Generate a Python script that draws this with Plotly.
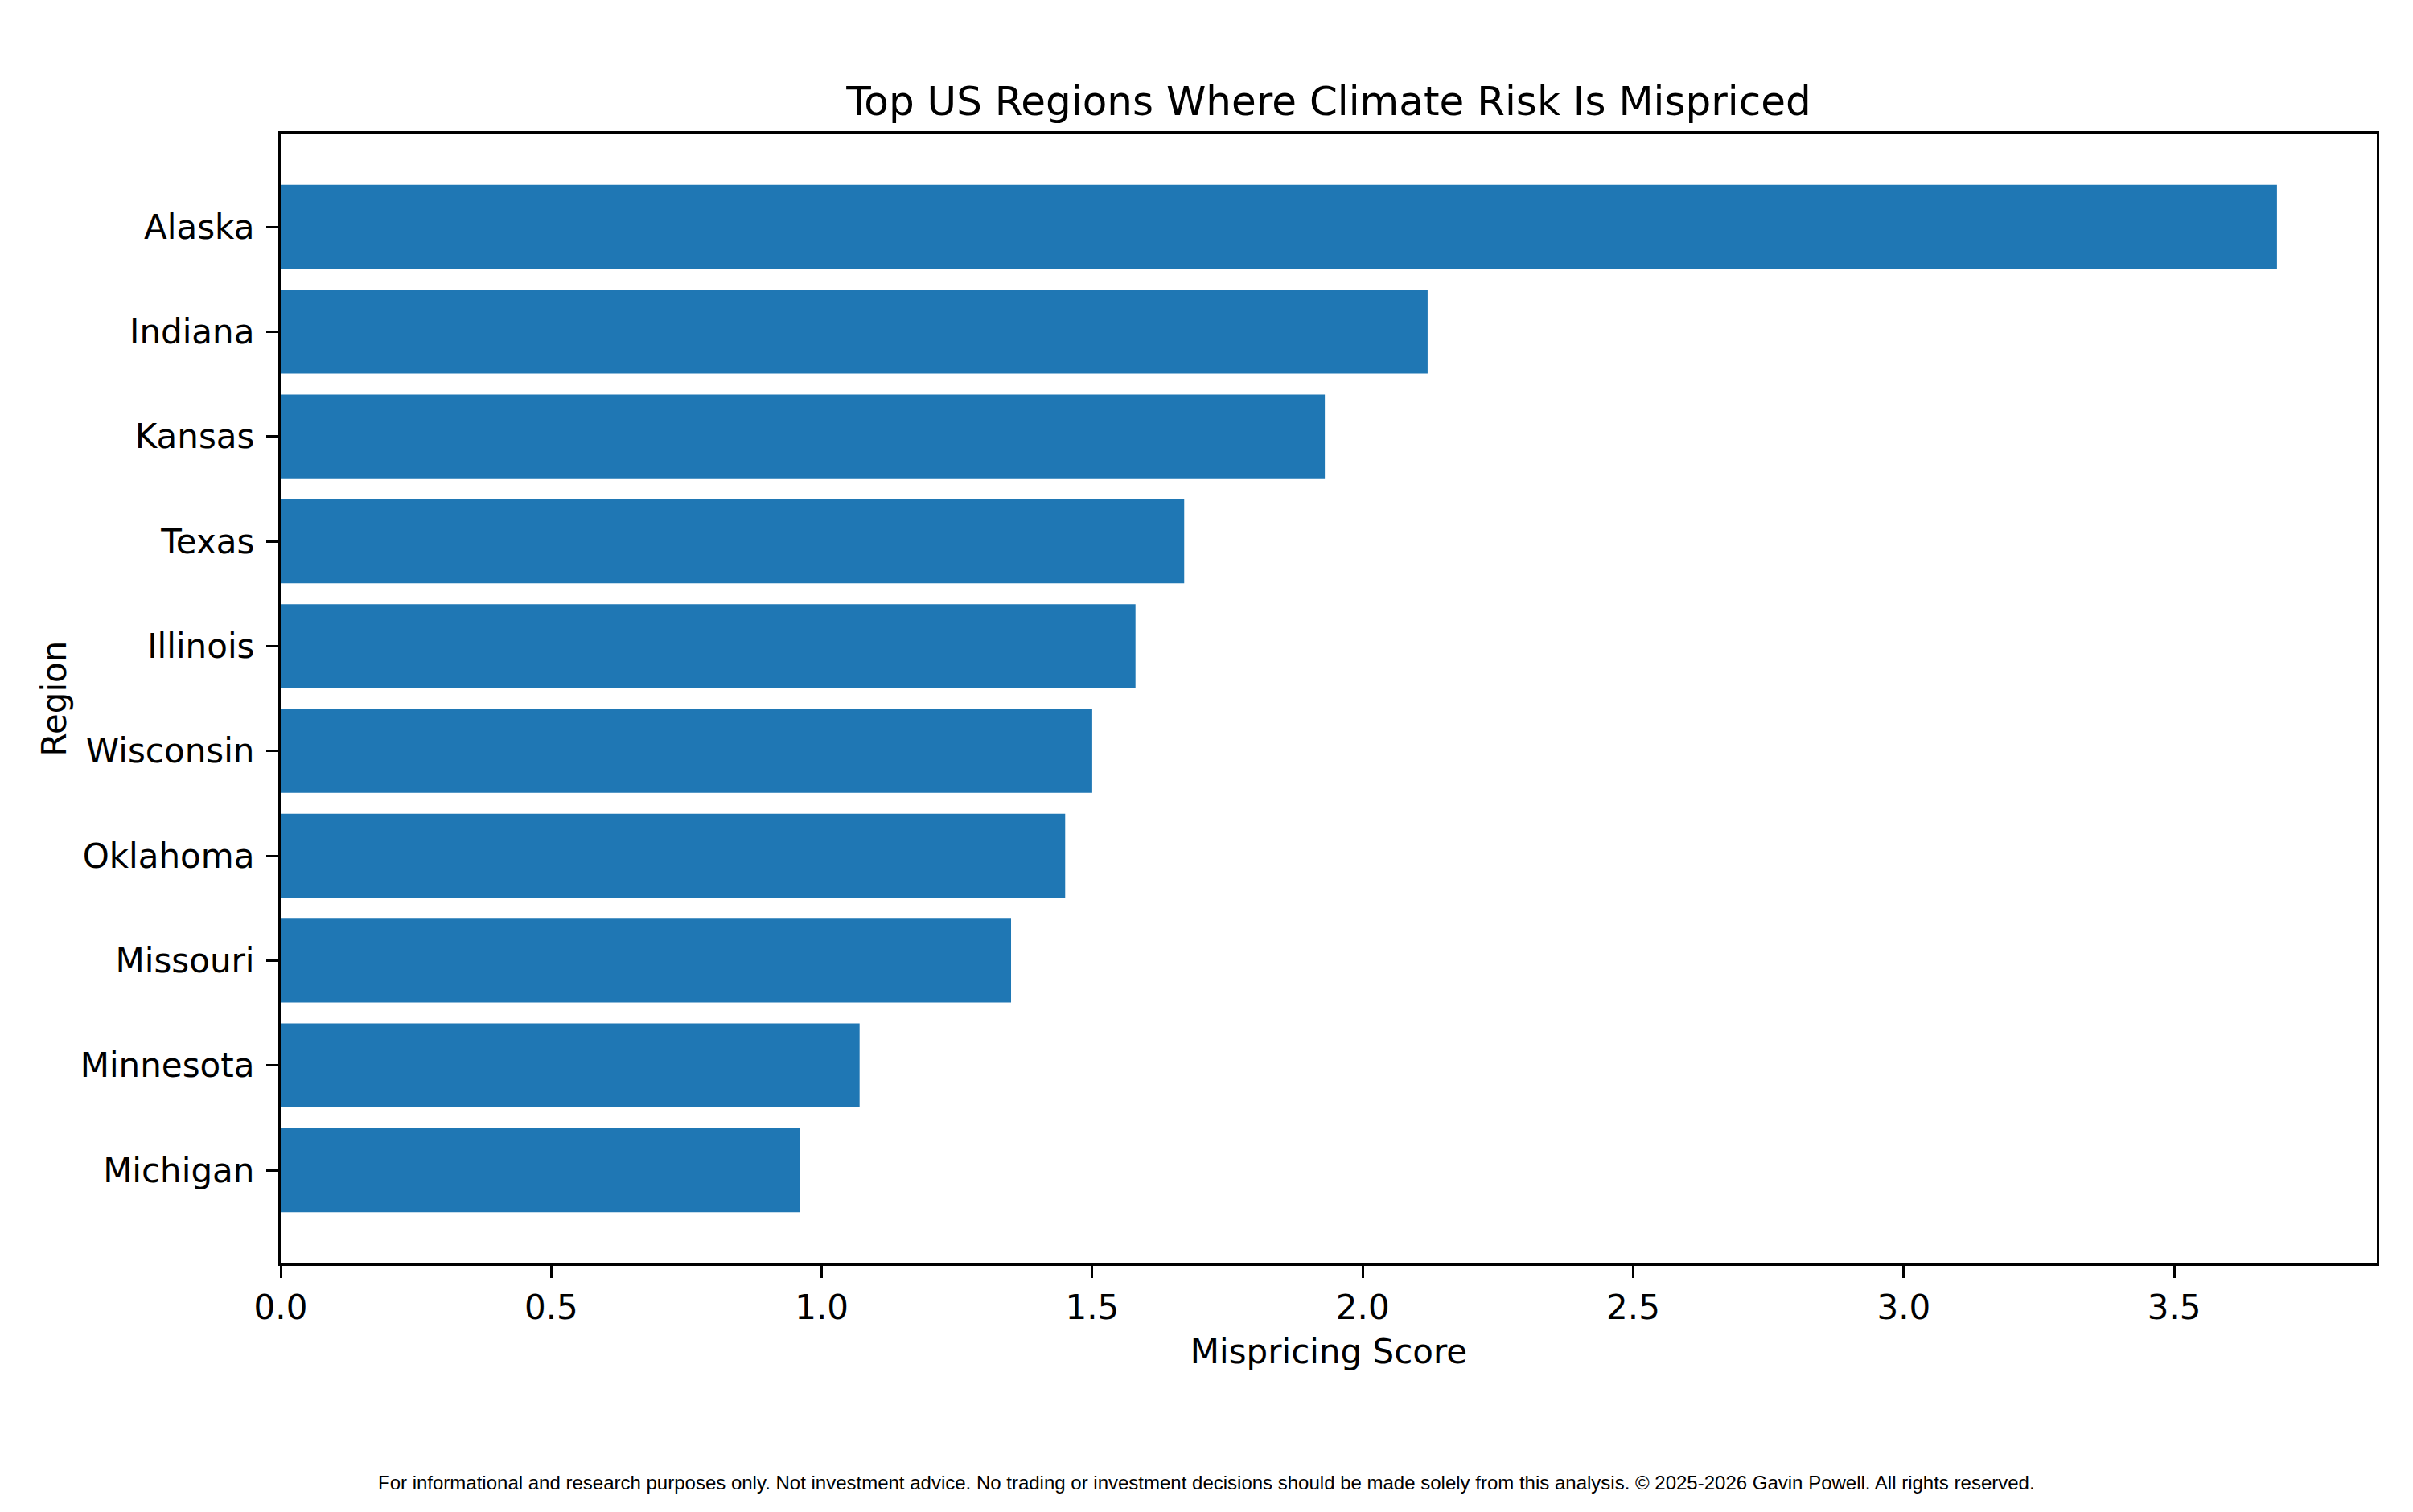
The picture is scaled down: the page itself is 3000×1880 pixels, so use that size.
import plotly.graph_objects as go

# data (top to bottom as shown)
regions = ["Alaska", "Indiana", "Kansas", "Texas", "Illinois",
           "Wisconsin", "Oklahoma", "Missouri", "Minnesota", "Michigan"]
scores = [3.69, 2.12, 1.93, 1.67, 1.58, 1.50, 1.45, 1.35, 1.07, 0.96]
x_ticks = [0.0, 0.5, 1.0, 1.5, 2.0, 2.5, 3.0, 3.5]

W, H = 3000, 1880
OFF = 8  # browser body margin
FONT = "DejaVu Sans"
BAR_COLOR = "#1f77b4"

# matplotlib-like limits: 5% padding
n = len(regions)
span = (n - 1) + 0.8
ypad = 0.05 * span
y_range = [-0.4 - ypad, (n - 1) + 0.4 + ypad]
x_range = [0, max(scores) * 1.05]

# barh plots first item at bottom, so reverse to get Alaska on top
y_order = regions[::-1]

fig = go.Figure()
fig.add_trace(go.Bar(
    x=scores[::-1],
    y=y_order,
    orientation="h",
    marker=dict(color=BAR_COLOR, line=dict(width=0)),
    width=0.8,
))

axis_common = dict(
    showline=True, linecolor="black", linewidth=3.3, mirror=True,
    ticks="outside", ticklen=15, tickwidth=3.3, tickcolor="black",
    showgrid=False, zeroline=False,
    tickfont=dict(family=FONT, size=42, color="black"),
)

L, R, T, B = 349 - OFF, 45 + OFF, 166 - OFF, 309 + OFF
plot_w = W - L - R

fig.update_layout(
    width=W, height=H,
    margin=dict(l=L, r=R, t=T, b=B, pad=0),
    paper_bgcolor="white", plot_bgcolor="white",
    showlegend=False,
    font=dict(family=FONT, color="black"),
    title=dict(
        text="Top US Regions Where Climate Risk Is Mispriced",
        font=dict(family=FONT, size=50, color="black"),
        x=0.5, xref="paper", xanchor="center",
        y=1 - (125 - OFF) / H, yref="container", yanchor="middle",
    ),
    xaxis=dict(
        range=x_range, tickvals=x_ticks,
        ticktext=[f"{v:.1f}" for v in x_ticks],
        title=dict(text="Mispricing Score", font=dict(family=FONT, size=42), standoff=18),
        **axis_common,
    ),
    yaxis=dict(
        type="category", categoryorder="array", categoryarray=y_order,
        range=y_range, ticklabelstandoff=6,
        title=dict(text="Region", font=dict(family=FONT, size=42), standoff=4),
        **axis_common,
    ),
    annotations=[dict(
        text="For informational and research purposes only. Not investment advice. "
             "No trading or investment decisions should be made solely from this analysis. "
             "\u00a9 2025-2026 Gavin Powell. All rights reserved.",
        xref="paper", yref="paper",
        x=(1500 - OFF - L) / plot_w, y=0,
        xanchor="center", yanchor="middle",
        yshift=-(1843 - 1571),
        showarrow=False,
        font=dict(family="Liberation Sans", size=24, color="black"),
    )],
)

fig.write_html("out.html")
